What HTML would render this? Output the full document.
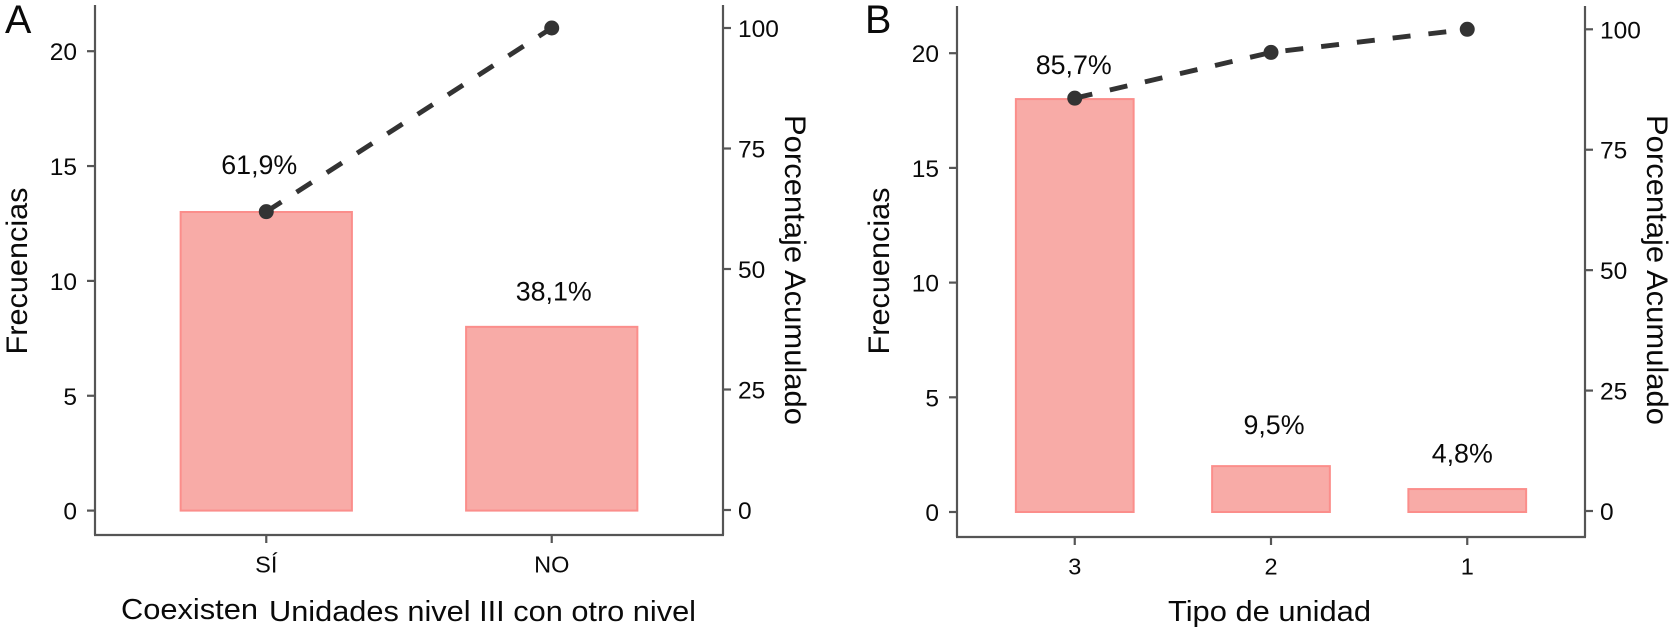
<!DOCTYPE html>
<html lang="es">
<head>
<meta charset="utf-8">
<title>Diagramas de Pareto</title>
<style>
html,body{margin:0;padding:0;background:#fff;width:1675px;height:633px;overflow:hidden}
svg{display:block}
text{font-family:"Liberation Sans",sans-serif;fill:#0a0a0a}
</style>
</head>
<body>
<svg id="chart" xmlns="http://www.w3.org/2000/svg" width="1675" height="633" viewBox="0 0 1675 633"></svg>
<script>
// Panel A data
const categoriesA = ["SÍ", "NO"];
const countsA = [13, 8];
const cumulativeA = [61.9, 100];
const barLabelsA = ["61,9%", "38,1%"];
const labelHeightsA = [14.65, 9.15];
// Panel B data
const categoriesB = ["3", "2", "1"];
const countsB = [18, 2, 1];
const cumulativeB = [85.7, 95.2, 100];
const barLabelsB = ["85,7%", "9,5%", "4,8%"];
const labelHeightsB = [19.1, 3.4, 2.15];
// Shared tick labels
const countTicks = [0, 5, 10, 15, 20];
const percentTicks = [0, 25, 50, 75, 100];

const NS = "http://www.w3.org/2000/svg";
const svg = document.getElementById("chart");

function make(tag, parent, props, content) {
  const el = document.createElementNS(NS, tag);
  for (const k in props) el.setAttribute(k, props[k]);
  if (content !== undefined) el.textContent = content;
  parent.appendChild(el);
  return el;
}

function drawPanel(cfg) {
  const g = make("g", svg, {});
  
  

  const step = (cfg.right - cfg.left) / (cfg.categories.length - 1 + 1.2);
  const xScale = i => cfg.left + step * (0.6 + i);
  const yCount = v => cfg.zero - v * cfg.perCount;
  const yPct = v => cfg.pctZero - v * cfg.perPct;
  const AXIS = "#555";

  // Panel letter
  const letter = make("text", g, {x: cfg.letterX, y: 33, "font-size": 39.5}, cfg.letter);
  
  

  // Bars
  cfg.counts.forEach((c, i) => {
    const w = step * 0.6;
    const bar = make("rect", g, {x: xScale(i) - w / 2, y: yCount(c), width: w, height: yCount(0) - yCount(c),
      fill: "#f8aba7", stroke: "#fb8e8b", "stroke-width": 2});
    
    
  });

  // Cumulative dashed line
  const pts = cfg.cumulative.map((v, i) => xScale(i) + "," + yPct(v)).join(" ");
  const line = make("polyline", g, {points: pts, fill: "none", stroke: "#333", "stroke-width": 4.9, "stroke-dasharray": "18 18", "stroke-dashoffset": "0"});
  
  

  // Cumulative points
  cfg.cumulative.forEach((v, i) => {
    const pt = make("circle", g, {cx: xScale(i), cy: yPct(v), r: 7.5, fill: "#333"});
    
    
  });

  // Bar labels
  cfg.barLabels.forEach((t, i) => {
    const lab = make("text", g, {x: xScale(i) + cfg.labelNudge[i], y: yCount(cfg.labelHeights[i]), "font-size": 26.8, "text-anchor": "middle"}, t);
    
    
  });

  // Axis lines
  const leftAxis = make("line", g, {x1: cfg.left, x2: cfg.left, y1: cfg.top, y2: cfg.bottom, stroke: AXIS, "stroke-width": 2.2});
  
  
  const rightAxis = make("line", g, {x1: cfg.right, x2: cfg.right, y1: cfg.top, y2: cfg.bottom, stroke: AXIS, "stroke-width": 2.2});
  
  
  const bottomAxis = make("line", g, {x1: cfg.left - 1, x2: cfg.right + 1, y1: cfg.bottom, y2: cfg.bottom, stroke: AXIS, "stroke-width": 2.2});
  
  

  // Left ticks
  countTicks.forEach(v => {
    const y = yCount(v);
    const t = make("line", g, {x1: cfg.left - 8, x2: cfg.left, y1: y, y2: y, stroke: AXIS, "stroke-width": 2.2});
    
    
    const l = make("text", g, {x: cfg.left - 18, y: y + 9, "font-size": 24.5, "text-anchor": "end"}, v);
    
    
  });

  // Right ticks
  percentTicks.forEach(v => {
    const y = yPct(v);
    const t = make("line", g, {x1: cfg.right, x2: cfg.right + 8, y1: y, y2: y, stroke: AXIS, "stroke-width": 2.2});
    
    
    const l = make("text", g, {x: cfg.right + 15, y: y + 9, "font-size": 24.5}, v);
    
    
  });

  // Category ticks
  cfg.categories.forEach((c, i) => {
    const x = xScale(i);
    const t = make("line", g, {x1: x, x2: x, y1: cfg.bottom, y2: cfg.bottom + 8, stroke: AXIS, "stroke-width": 2.2});
    
    
    const l = make("text", g, {x: x, y: cfg.bottom + 37.5, "font-size": 23.5, "text-anchor": "middle"}, c);
    
    
  });

  // Axis titles
  const yTitle = make("text", g, {transform: "translate(" + cfg.yTitleX + ",271) rotate(-90)", "font-size": 30, "text-anchor": "middle", textLength: 167, lengthAdjust: "spacingAndGlyphs"}, "Frecuencias");
  
  
  const y2Title = make("text", g, {transform: "translate(" + cfg.y2TitleX + ",270) rotate(90)", "font-size": 30, "text-anchor": "middle", textLength: 310, lengthAdjust: "spacingAndGlyphs"}, "Porcentaje Acumulado");
  
  

  cfg.xTitles.forEach(p => {
    const xt = make("text", g, {x: p.x, y: p.y, "font-size": 29, textLength: p.w, lengthAdjust: "spacingAndGlyphs"}, p.text);
    
    
  });
}

drawPanel({
  id: "a", letter: "A", letterX: 5,
  left: 95, right: 723, top: 5, bottom: 535,
  zero: 510.6, perCount: 22.97, pctZero: 510, perPct: 4.82,
  yTitleX: 27, y2TitleX: 785,
  categories: categoriesA, counts: countsA, cumulative: cumulativeA,
  barLabels: barLabelsA, labelHeights: labelHeightsA, labelNudge: [-7, 2],
  xTitles: [
    {text: "Coexisten", x: 121, y: 619, w: 137},
    {text: "Unidades nivel III con otro nivel", x: 269, y: 621, w: 427}
  ]
});

drawPanel({
  id: "b", letter: "B", letterX: 865,
  left: 957, right: 1585, top: 6, bottom: 537,
  zero: 512, perCount: 22.94, pctZero: 511, perPct: 4.817,
  yTitleX: 889, y2TitleX: 1647,
  categories: categoriesB, counts: countsB, cumulative: cumulativeB,
  barLabels: barLabelsB, labelHeights: labelHeightsB, labelNudge: [-1, 3, -5],
  xTitles: [
    {text: "Tipo de unidad", x: 1168, y: 621, w: 203}
  ]
});
</script>
</body>
</html>
